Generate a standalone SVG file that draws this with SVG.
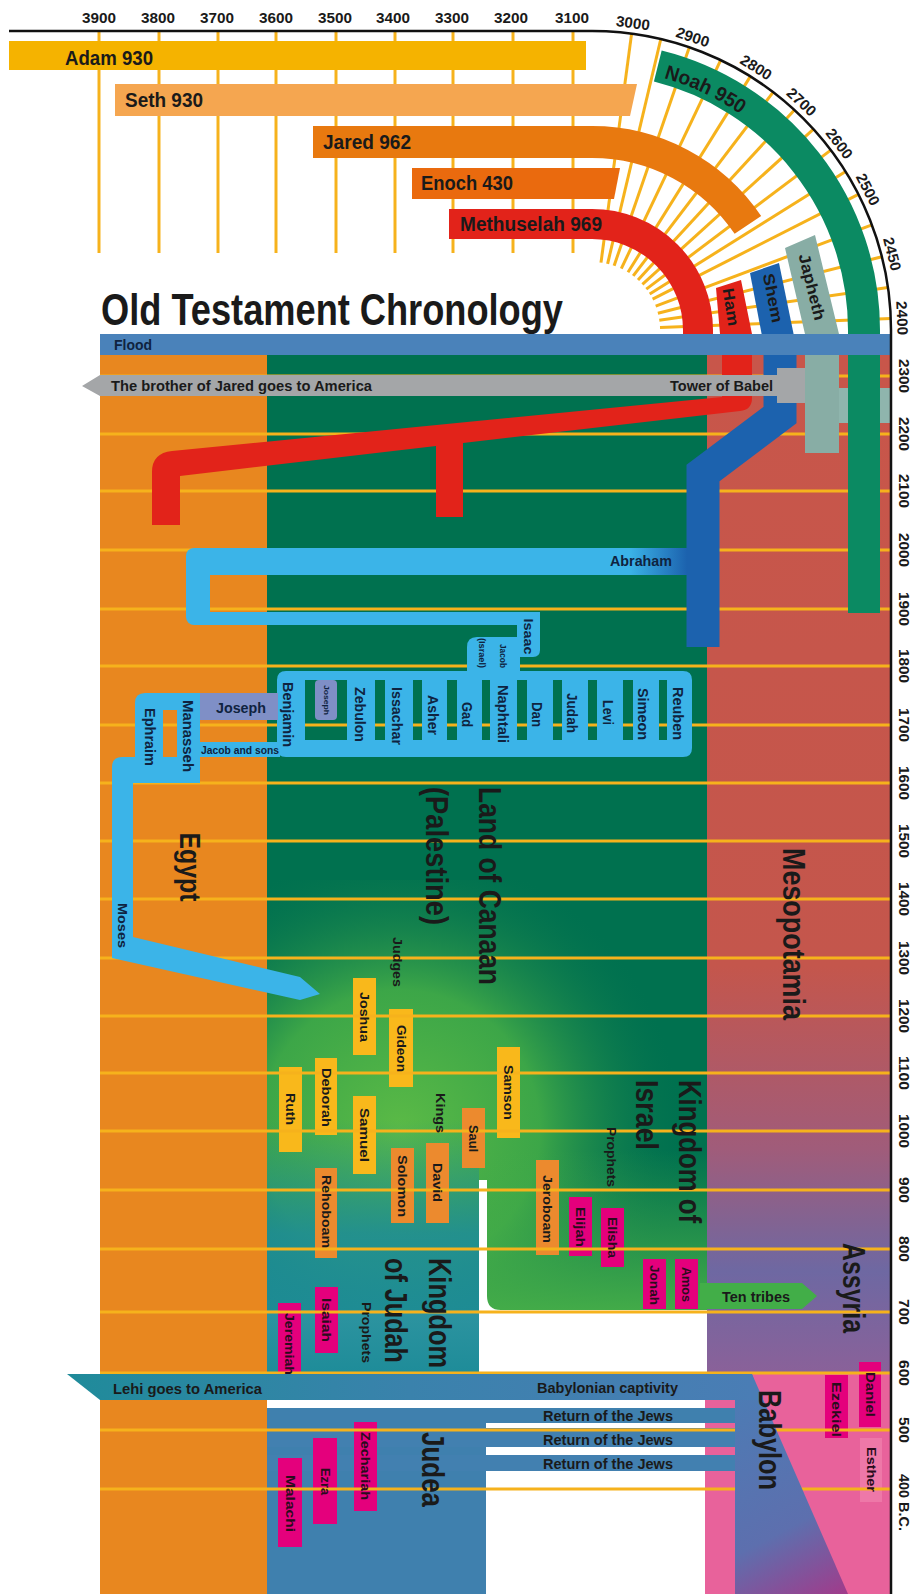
<svg xmlns="http://www.w3.org/2000/svg" width="914" height="1594" viewBox="0 0 914 1594">
<defs>
<style>
.t{font-family:"Liberation Sans Narrow","Liberation Sans",Arial,sans-serif;font-weight:700;fill:#1a1a1a}
.r{dominant-baseline:central;text-anchor:middle}
.yr{font-size:15px}
.bar{font-size:20px}
.band{font-size:15px}
.big{font-size:32px}
.nm{font-size:13.5px}
.nv{fill:#0F2340}
.tm{fill:#2a0c1c}
.grid{stroke:#F6B21C;stroke-width:3}
.by{fill:#F9B81B}
.bo{fill:#EC8A2E}
.bm{fill:#E4007C}
.lb{fill:#3BB4E8}
.pw{fill:#7F8FC6}
</style>
<linearGradient id="meso" gradientUnits="userSpaceOnUse" x1="0" y1="355" x2="0" y2="1373">
<stop offset="0" stop-color="#C8564A"/><stop offset="0.6" stop-color="#C4564C"/><stop offset="0.78" stop-color="#A05C7A"/><stop offset="0.9" stop-color="#6E68A2"/><stop offset="1" stop-color="#8A6199"/>
</linearGradient>
<radialGradient id="grn" gradientUnits="userSpaceOnUse" cx="400" cy="1130" r="280">
<stop offset="0" stop-color="#5BBA46" stop-opacity="1"/><stop offset="0.5" stop-color="#43AC47" stop-opacity="0.9"/><stop offset="1" stop-color="#0A7650" stop-opacity="0"/>
</radialGradient>
<linearGradient id="judah" gradientUnits="userSpaceOnUse" x1="0" y1="1120" x2="0" y2="1373">
<stop offset="0" stop-color="#1E8C99" stop-opacity="0"/><stop offset="0.45" stop-color="#1E8C99" stop-opacity="0.85"/><stop offset="1" stop-color="#1E8C99" stop-opacity="1"/>
</linearGradient>
<linearGradient id="isr" gradientUnits="userSpaceOnUse" x1="0" y1="1150" x2="0" y2="1310">
<stop offset="0" stop-color="#46AE48" stop-opacity="0"/><stop offset="1" stop-color="#46AE48" stop-opacity="0.95"/>
</linearGradient>
<linearGradient id="capt" gradientUnits="userSpaceOnUse" x1="67" y1="0" x2="752" y2="0">
<stop offset="0" stop-color="#1F8B9A"/><stop offset="0.5" stop-color="#3A82AC"/><stop offset="1" stop-color="#4A7DB5"/>
</linearGradient>
<linearGradient id="baby" gradientUnits="userSpaceOnUse" x1="735" y1="1374" x2="850" y2="1594">
<stop offset="0" stop-color="#4A7DB5"/><stop offset="0.65" stop-color="#5D6FAE"/><stop offset="1" stop-color="#A23A8A"/>
</linearGradient>
<linearGradient id="abr" gradientUnits="userSpaceOnUse" x1="205" y1="0" x2="687" y2="0">
<stop offset="0" stop-color="#3BB4E8"/><stop offset="0.88" stop-color="#3BB4E8"/><stop offset="1" stop-color="#1C62AE"/>
</linearGradient>
<path id="noahArc" d="M663.8,78 A262,262 0 0 1 818.9,199"/>
</defs>
<rect width="914" height="1594" fill="#ffffff"/>

<!-- regions -->
<g id="regions">
<rect id="egypt-bg" x="100" y="355" width="167" height="1239" fill="#E8871F"/>
<rect id="canaan-bg" x="267" y="355" width="440" height="955" fill="#00714F"/>
<rect x="267" y="880" width="440" height="430" fill="url(#grn)"/>
<rect x="267" y="1120" width="212" height="253" fill="url(#judah)"/>
<rect x="487" y="1150" width="220" height="160" fill="url(#isr)"/>
<path d="M479,1180 L487,1180 L487,1296 Q487,1310 501,1310 L707,1310 L707,1373 L479,1373 Z" fill="#ffffff"/>
<rect id="meso-bg" x="707" y="355" width="184" height="1018" fill="url(#meso)"/>
<rect id="babylon-bg" x="705" y="1373" width="186" height="221" fill="#E8629B"/>
<rect id="judea-bg" x="267" y="1408" width="219" height="186" fill="#3F80AE"/>
<rect x="267" y="1408" width="473" height="15" fill="#3F80AE"/>
<rect x="267" y="1428" width="473" height="19" fill="#4280B0"/>
<rect x="267" y="1455" width="473" height="16" fill="#4280B0"/>
<path d="M700,1283 L802,1283 L817,1296 L802,1309 L700,1309 Z" fill="#42AE48"/>
</g>

<!-- person boxes -->
<g id="boxes">
<rect x="353" y="978" width="23" height="77" class="by"/>
<rect x="389" y="1009" width="24" height="78" class="by"/>
<rect x="315" y="1058" width="22" height="77" class="by"/>
<rect x="279" y="1067" width="23" height="85" class="by"/>
<rect x="353" y="1096" width="23" height="78" class="by"/>
<rect x="497" y="1047" width="23" height="91" class="by"/>
<rect x="462" y="1108" width="23" height="60" class="bo"/>
<rect x="426" y="1143" width="23" height="80" class="bo"/>
<rect x="391" y="1148" width="23" height="75" class="bo"/>
<rect x="315" y="1168" width="22" height="90" class="bo"/>
<rect x="536" y="1160" width="23" height="95" class="bo"/>
<rect x="569" y="1197" width="23" height="59" class="bm"/>
<rect x="601" y="1208" width="23" height="59" class="bm"/>
<rect x="643" y="1259" width="23" height="50" class="bm"/>
<rect x="675" y="1259" width="23" height="50" class="bm"/>
<rect x="315" y="1287" width="23" height="66" class="bm"/>
<rect x="278" y="1303" width="23" height="82" class="bm"/>
<rect x="354" y="1422" width="23" height="89" class="bm"/>
<rect x="313" y="1438" width="24" height="86" class="bm"/>
<rect x="278" y="1458" width="24" height="89" class="bm"/>
<rect x="859" y="1362" width="22" height="65" class="bm"/>
<rect x="825" y="1375" width="23" height="63" class="bm"/>
<rect x="860" y="1438" width="22" height="64" fill="#EE78A8"/>
</g>

<!-- grid -->
<g id="grid" class="grid">
<line x1="100" y1="376" x2="891" y2="376"/><line x1="100" y1="434" x2="891" y2="434"/>
<line x1="100" y1="491" x2="891" y2="491"/><line x1="100" y1="550" x2="891" y2="550"/>
<line x1="100" y1="609" x2="891" y2="609"/><line x1="100" y1="666" x2="891" y2="666"/>
<line x1="100" y1="725" x2="891" y2="725"/><line x1="100" y1="783" x2="891" y2="783"/>
<line x1="100" y1="841" x2="891" y2="841"/><line x1="100" y1="899" x2="891" y2="899"/>
<line x1="100" y1="958" x2="891" y2="958"/><line x1="100" y1="1016" x2="891" y2="1016"/>
<line x1="100" y1="1073" x2="891" y2="1073"/><line x1="100" y1="1131" x2="891" y2="1131"/>
<line x1="100" y1="1190" x2="891" y2="1190"/><line x1="100" y1="1249" x2="891" y2="1249"/>
<line x1="100" y1="1312" x2="891" y2="1312"/><line x1="100" y1="1373" x2="891" y2="1373"/>
<line x1="100" y1="1430" x2="891" y2="1430"/><line x1="100" y1="1489" x2="891" y2="1489"/>
<line x1="99" y1="31" x2="99" y2="253"/><line x1="159" y1="31" x2="159" y2="253"/>
<line x1="218" y1="31" x2="218" y2="253"/><line x1="276" y1="31" x2="276" y2="253"/>
<line x1="336" y1="31" x2="336" y2="253"/><line x1="395" y1="31" x2="395" y2="253"/>
<line x1="453" y1="31" x2="453" y2="253"/><line x1="513" y1="31" x2="513" y2="253"/>
<line x1="573" y1="31" x2="573" y2="253"/>
<line x1="601" y1="262.6" x2="631.6" y2="33.6"/><line x1="607.6" y1="263.8" x2="660.8" y2="39"/>
<line x1="614.1" y1="265.7" x2="689.3" y2="47.3"/><line x1="621.3" y1="268.6" x2="720.7" y2="60.1"/>
<line x1="628" y1="272.3" x2="750.4" y2="76.4"/><line x1="633.2" y1="275.9" x2="773.2" y2="92.1"/>
<line x1="638" y1="279.9" x2="794.4" y2="109.9"/><line x1="642.4" y1="284.3" x2="813.5" y2="129.2"/>
<line x1="646.3" y1="289.1" x2="830.8" y2="150.1"/><line x1="649.7" y1="294" x2="845.6" y2="171.6"/>
<line x1="652.6" y1="299.1" x2="858.4" y2="194.3"/><line x1="655.7" y1="306.1" x2="871.9" y2="224.8"/>
<line x1="657.9" y1="313.3" x2="881.9" y2="256.7"/><line x1="659.3" y1="320.3" x2="888" y2="287.4"/>
<line x1="660" y1="327.4" x2="890.8" y2="318.5"/>
</g>

<!-- patriarch bars -->
<g id="adam"><rect x="9" y="41" width="577" height="29" fill="#F5B300"/><text class="t bar" x="65" y="65" textLength="88" lengthAdjust="spacingAndGlyphs">Adam 930</text></g>
<g id="seth"><path d="M115,84 L637,84 L630,116 L115,116 Z" fill="#F5A650"/><text class="t bar" x="125" y="107" textLength="78" lengthAdjust="spacingAndGlyphs">Seth 930</text></g>
<g id="jared"><path d="M313,142 L592,142 A188,188 0 0 1 747.9,224.9" fill="none" stroke="#E8790F" stroke-width="32"/><text class="t bar" x="323" y="149" textLength="88" lengthAdjust="spacingAndGlyphs">Jared 962</text></g>
<g id="enoch"><path d="M412,168 L620,168 L614,199 L412,199 Z" fill="#EA6A0E"/><text class="t bar" x="421" y="190" textLength="92" lengthAdjust="spacingAndGlyphs">Enoch 430</text></g>
<g id="methuselah"><path d="M449,224 L592,224 A106,106 0 0 1 698,330 L698,336" fill="none" stroke="#E2231A" stroke-width="30"/><text class="t bar" x="460" y="231" textLength="142" lengthAdjust="spacingAndGlyphs">Methuselah 969</text></g>

<!-- Babylon shape -->
<g id="babylonian-captivity">
<path d="M735,1374 L752,1374 L848,1594 L735,1594 Z" fill="url(#baby)"/>
<path d="M67,1374 L752,1374 L760,1400 L100,1400 Z" fill="url(#capt)"/>
<text class="t band" x="113" y="1394" textLength="149" lengthAdjust="spacingAndGlyphs">Lehi goes to America</text>
<text class="t band" x="537" y="1393" textLength="141" lengthAdjust="spacingAndGlyphs">Babylonian captivity</text>
</g>
<g id="return-jews">
<text class="t band" x="543" y="1421" textLength="130" lengthAdjust="spacingAndGlyphs">Return of the Jews</text>
<text class="t band" x="543" y="1445" textLength="130" lengthAdjust="spacingAndGlyphs">Return of the Jews</text>
<text class="t band" x="543" y="1469" textLength="130" lengthAdjust="spacingAndGlyphs">Return of the Jews</text>
</g>

<!-- connectors: lineages -->
<g id="connectors">
<path id="ham-line" d="M716,288 L741,280 L752,334 L752,398 Q752,410 740,411 L463,443 L463,517 L436,517 L436,446 L180,476 L180,525 L152,525 L152,472 Q152,453 172,451 L722,397 L722,334 L720,334 Z" fill="#E2231A"/>
<path d="M750,273 L779,263 L794,336 L762,336 Z" fill="#1C62AE"/>
<path id="shem-line" d="M780,334 L780,415 L703,473 L703,647" fill="none" stroke="#1C62AE" stroke-width="33"/>
<rect x="825" y="388" width="66" height="35" fill="#8FB5AD"/>
<path d="M785,248 L815,235 L839,334 L839,453 L805,453 L805,334 Z" fill="#88ADA5"/>
<path id="noah-line" d="M657.8,66.1 A272,272 0 0 1 864,330 L864,613" fill="none" stroke="#0B8A62" stroke-width="32"/>
</g>

<g id="flood"><rect x="100" y="334" width="791" height="21" fill="#4A82BA"/><text class="t band nv" x="114" y="350" textLength="38" lengthAdjust="spacingAndGlyphs">Flood</text></g>
<g id="tower-of-babel"><path d="M82,386 L100,375 L777,375 L777,368 L805,368 L805,403 L777,403 L777,396 L100,396 Z" fill="#A4A6A8"/>
<text class="t band" x="111" y="391" textLength="261" lengthAdjust="spacingAndGlyphs">The brother of Jared goes to America</text>
<text class="t band" x="670" y="391" textLength="103" lengthAdjust="spacingAndGlyphs">Tower of Babel</text></g>

<g id="abraham-lineage">
<rect x="205" y="548" width="482" height="27" fill="url(#abr)"/>
<rect x="186" y="548" width="24" height="77" rx="8" class="lb"/>
<rect x="200" y="548" width="10" height="27" class="lb"/>
<rect x="200" y="612" width="340" height="13" class="lb"/>
<path d="M517,612 L530,612 Q540,612 540,622 L540,650 Q540,657 533,657 L517,657 Z" class="lb"/>
<path d="M467,672 L467,647 Q467,637 477,637 L520,637 L520,672 Z" class="lb"/>
<path fill-rule="evenodd" class="lb" d="M286,671 L683,671 Q692,671 692,680 L692,748 Q692,757 683,757 L286,757 Q277,757 277,748 L277,680 Q277,671 286,671 Z M305,680 h42 v60 h-42 Z M375,680 h10 v60 h-10 Z M413,680 h9 v60 h-9 Z M447,680 h10 v60 h-10 Z M482,680 h8 v60 h-8 Z M517,680 h10 v60 h-10 Z M553,680 h9 v60 h-9 Z M588,680 h9 v60 h-9 Z M623,680 h10 v60 h-10 Z M659,680 h8 v60 h-8 Z"/>
<rect x="315" y="680" width="22" height="40" rx="4" class="pw"/>
<rect x="197" y="742" width="83" height="15" class="lb"/>
<rect x="200" y="693" width="78" height="27" class="pw"/>
<path fill-rule="evenodd" class="lb" d="M135,783 L135,703 Q135,693 145,693 L200,693 L200,783 Z M163,710 L177,710 L177,770 L163,770 Z"/>
<path class="lb" d="M112,767 Q112,757 122,757 L200,757 L200,783 L133,783 L133,937 L300,977 L320,994 L300,1000 L112,958 Z"/>
<text class="t band nv" x="610" y="566" textLength="62" lengthAdjust="spacingAndGlyphs">Abraham</text>
</g>

<!-- title -->
<g id="title"><text class="t" x="101" y="325" font-size="44" fill="#111" textLength="462" lengthAdjust="spacingAndGlyphs">Old Testament Chronology</text></g>

<!-- axis -->
<g id="axis">
<path d="M9,31 L592,31 A299,299 0 0 1 891,330 L891,1594" fill="none" stroke="#111" stroke-width="2.5"/>
<g class="t yr">
<text x="99" y="23" text-anchor="middle" textLength="34" lengthAdjust="spacingAndGlyphs">3900</text>
<text x="158" y="23" text-anchor="middle" textLength="34" lengthAdjust="spacingAndGlyphs">3800</text>
<text x="217" y="23" text-anchor="middle" textLength="34" lengthAdjust="spacingAndGlyphs">3700</text>
<text x="276" y="23" text-anchor="middle" textLength="34" lengthAdjust="spacingAndGlyphs">3600</text>
<text x="335" y="23" text-anchor="middle" textLength="34" lengthAdjust="spacingAndGlyphs">3500</text>
<text x="393" y="23" text-anchor="middle" textLength="34" lengthAdjust="spacingAndGlyphs">3400</text>
<text x="452" y="23" text-anchor="middle" textLength="34" lengthAdjust="spacingAndGlyphs">3300</text>
<text x="511" y="23" text-anchor="middle" textLength="34" lengthAdjust="spacingAndGlyphs">3200</text>
<text x="572" y="23" text-anchor="middle" textLength="34" lengthAdjust="spacingAndGlyphs">3100</text>
<text class="r" transform="translate(633,22.7) rotate(7.6)" textLength="34" lengthAdjust="spacingAndGlyphs">3000</text>
<text class="r" transform="translate(692.9,36.9) rotate(19)" textLength="34" lengthAdjust="spacingAndGlyphs">2900</text>
<text class="r" transform="translate(756.3,67.1) rotate(32)" textLength="34" lengthAdjust="spacingAndGlyphs">2800</text>
<text class="r" transform="translate(801.8,101.8) rotate(42.6)" textLength="34" lengthAdjust="spacingAndGlyphs">2700</text>
<text class="r" transform="translate(839.6,143.4) rotate(53)" textLength="34" lengthAdjust="spacingAndGlyphs">2600</text>
<text class="r" transform="translate(868.2,189.3) rotate(63)" textLength="34" lengthAdjust="spacingAndGlyphs">2500</text>
<text class="r" transform="translate(892.5,254) rotate(75.8)" textLength="34" lengthAdjust="spacingAndGlyphs">2450</text>
<text class="r" transform="translate(902.5,318) rotate(87.8)" textLength="34" lengthAdjust="spacingAndGlyphs">2400</text>
<text class="r" transform="translate(904,376) rotate(90)" textLength="34" lengthAdjust="spacingAndGlyphs">2300</text>
<text class="r" transform="translate(904,434) rotate(90)" textLength="34" lengthAdjust="spacingAndGlyphs">2200</text>
<text class="r" transform="translate(904,491) rotate(90)" textLength="34" lengthAdjust="spacingAndGlyphs">2100</text>
<text class="r" transform="translate(904,550) rotate(90)" textLength="34" lengthAdjust="spacingAndGlyphs">2000</text>
<text class="r" transform="translate(904,609) rotate(90)" textLength="34" lengthAdjust="spacingAndGlyphs">1900</text>
<text class="r" transform="translate(904,666) rotate(90)" textLength="34" lengthAdjust="spacingAndGlyphs">1800</text>
<text class="r" transform="translate(904,725) rotate(90)" textLength="34" lengthAdjust="spacingAndGlyphs">1700</text>
<text class="r" transform="translate(904,783) rotate(90)" textLength="34" lengthAdjust="spacingAndGlyphs">1600</text>
<text class="r" transform="translate(904,841) rotate(90)" textLength="34" lengthAdjust="spacingAndGlyphs">1500</text>
<text class="r" transform="translate(904,899) rotate(90)" textLength="34" lengthAdjust="spacingAndGlyphs">1400</text>
<text class="r" transform="translate(904,958) rotate(90)" textLength="34" lengthAdjust="spacingAndGlyphs">1300</text>
<text class="r" transform="translate(904,1016) rotate(90)" textLength="34" lengthAdjust="spacingAndGlyphs">1200</text>
<text class="r" transform="translate(904,1073) rotate(90)" textLength="34" lengthAdjust="spacingAndGlyphs">1100</text>
<text class="r" transform="translate(904,1131) rotate(90)" textLength="34" lengthAdjust="spacingAndGlyphs">1000</text>
<text class="r" transform="translate(904,1190) rotate(90)" textLength="26" lengthAdjust="spacingAndGlyphs">900</text>
<text class="r" transform="translate(904,1249) rotate(90)" textLength="26" lengthAdjust="spacingAndGlyphs">800</text>
<text class="r" transform="translate(904,1312) rotate(90)" textLength="26" lengthAdjust="spacingAndGlyphs">700</text>
<text class="r" transform="translate(904,1373) rotate(90)" textLength="26" lengthAdjust="spacingAndGlyphs">600</text>
<text class="r" transform="translate(904,1430) rotate(90)" textLength="26" lengthAdjust="spacingAndGlyphs">500</text>
<text transform="translate(904,1474) rotate(90)" dominant-baseline="central" textLength="57" lengthAdjust="spacingAndGlyphs">400 B.C.</text>
</g>
</g>

<!-- sons of Noah and Noah label -->
<g id="noah"><text class="t bar"><textPath href="#noahArc" textLength="85" lengthAdjust="spacingAndGlyphs">Noah 950</textPath></text></g>
<g id="ham"><text class="t r" font-size="16" transform="translate(731,307) rotate(81)" textLength="38" lengthAdjust="spacingAndGlyphs">Ham</text></g>
<g id="shem"><text class="t r" font-size="16" transform="translate(773,298) rotate(79)" textLength="50" lengthAdjust="spacingAndGlyphs">Shem</text></g>
<g id="japheth"><text class="t r" font-size="16" transform="translate(812,287) rotate(76)" textLength="68" lengthAdjust="spacingAndGlyphs">Japheth</text></g>

<!-- lineage labels -->
<g class="t nv">
<g id="isaac"><text class="r" font-size="13" transform="translate(528.5,636.5) rotate(90)" textLength="36" lengthAdjust="spacingAndGlyphs">Isaac</text></g>
<g id="jacob"><text class="r" font-size="9" transform="translate(503,656) rotate(90)" textLength="24" lengthAdjust="spacingAndGlyphs">Jacob</text>
<text class="r" font-size="8.5" transform="translate(482,653) rotate(90)" textLength="30" lengthAdjust="spacingAndGlyphs">(Israel)</text></g>
<g id="tribes" font-size="14">
<text class="r" transform="translate(288,714.5) rotate(90)" textLength="65" lengthAdjust="spacingAndGlyphs">Benjamin</text>
<text class="r" font-size="8" transform="translate(326,700) rotate(90)" textLength="30" lengthAdjust="spacingAndGlyphs">Joseph</text>
<text class="r" transform="translate(360,714.5) rotate(90)" textLength="55" lengthAdjust="spacingAndGlyphs">Zebulon</text>
<text class="r" transform="translate(397,716) rotate(90)" textLength="58" lengthAdjust="spacingAndGlyphs">Issachar</text>
<text class="r" transform="translate(433,715) rotate(90)" textLength="40" lengthAdjust="spacingAndGlyphs">Asher</text>
<text class="r" transform="translate(467,714.5) rotate(90)" textLength="25" lengthAdjust="spacingAndGlyphs">Gad</text>
<text class="r" transform="translate(503,714) rotate(90)" textLength="58" lengthAdjust="spacingAndGlyphs">Naphtali</text>
<text class="r" transform="translate(537,714.5) rotate(90)" textLength="25" lengthAdjust="spacingAndGlyphs">Dan</text>
<text class="r" transform="translate(572,713) rotate(90)" textLength="40" lengthAdjust="spacingAndGlyphs">Judah</text>
<text class="r" transform="translate(608,712.5) rotate(90)" textLength="25" lengthAdjust="spacingAndGlyphs">Levi</text>
<text class="r" transform="translate(643,714) rotate(90)" textLength="52" lengthAdjust="spacingAndGlyphs">Simeon</text>
<text class="r" transform="translate(678,713.5) rotate(90)" textLength="53" lengthAdjust="spacingAndGlyphs">Reuben</text>
</g>
<g id="joseph"><text font-size="15" x="216" y="713" textLength="50" lengthAdjust="spacingAndGlyphs">Joseph</text></g>
<g id="jacob-and-sons"><text font-size="10.5" x="201" y="754" textLength="78" lengthAdjust="spacingAndGlyphs">Jacob and sons</text></g>
<g id="manasseh"><text class="r" font-size="14" transform="translate(188,736) rotate(90)" textLength="72" lengthAdjust="spacingAndGlyphs">Manasseh</text></g>
<g id="ephraim"><text class="r" font-size="14" transform="translate(150,737) rotate(90)" textLength="58" lengthAdjust="spacingAndGlyphs">Ephraim</text></g>
<g id="moses"><text class="r" font-size="13" transform="translate(122,925.5) rotate(90)" textLength="45" lengthAdjust="spacingAndGlyphs">Moses</text></g>
</g>

<!-- region labels -->
<g class="t big">
<g id="lbl-egypt"><text class="r" font-size="30" transform="translate(190,867) rotate(90)" textLength="69" lengthAdjust="spacingAndGlyphs">Egypt</text></g>
<g id="lbl-canaan"><text class="r" transform="translate(490,886) rotate(90)" textLength="198" lengthAdjust="spacingAndGlyphs">Land of Canaan</text>
<text class="r" transform="translate(437,856) rotate(90)" textLength="138" lengthAdjust="spacingAndGlyphs">(Palestine)</text></g>
<g id="lbl-meso"><text class="r" transform="translate(794,934) rotate(90)" textLength="172" lengthAdjust="spacingAndGlyphs">Mesopotamia</text></g>
<g id="lbl-israel"><text class="r" transform="translate(690,1151.5) rotate(90)" textLength="143" lengthAdjust="spacingAndGlyphs">Kingdom of</text>
<text class="r" transform="translate(647,1115) rotate(90)" textLength="70" lengthAdjust="spacingAndGlyphs">Israel</text></g>
<g id="lbl-judah"><text class="r" transform="translate(440,1313) rotate(90)" textLength="110" lengthAdjust="spacingAndGlyphs">Kingdom</text>
<text class="r" transform="translate(396,1310.5) rotate(90)" textLength="105" lengthAdjust="spacingAndGlyphs">of Judah</text></g>
<g id="lbl-judea"><text class="r" transform="translate(433,1469.5) rotate(90)" textLength="75" lengthAdjust="spacingAndGlyphs">Judea</text></g>
<g id="lbl-assyria"><text class="r" transform="translate(854,1288) rotate(90)" textLength="90" lengthAdjust="spacingAndGlyphs">Assyria</text></g>
<g id="lbl-babylon"><text class="r" transform="translate(770,1440) rotate(90)" textLength="100" lengthAdjust="spacingAndGlyphs">Babylon</text></g>
</g>

<g class="t" font-size="13">
<g id="lbl-judges"><text class="r" transform="translate(397,962) rotate(90)" textLength="50" lengthAdjust="spacingAndGlyphs">Judges</text></g>
<g id="lbl-kings"><text class="r" transform="translate(440,1113) rotate(90)" textLength="40" lengthAdjust="spacingAndGlyphs">Kings</text></g>
<g id="lbl-prophets-israel"><text class="r" transform="translate(611,1157) rotate(90)" textLength="60" lengthAdjust="spacingAndGlyphs">Prophets</text></g>
<g id="lbl-prophets-judah"><text class="r" transform="translate(366,1332.5) rotate(90)" textLength="61" lengthAdjust="spacingAndGlyphs">Prophets</text></g>
<g id="ten-tribes"><text font-size="14" x="722" y="1302" textLength="68" lengthAdjust="spacingAndGlyphs">Ten tribes</text></g>
</g>

<!-- person labels -->
<g class="t nm">
<g id="joshua"><text class="r" transform="translate(364.5,1017) rotate(90)" textLength="50" lengthAdjust="spacingAndGlyphs">Joshua</text></g>
<g id="gideon"><text class="r" transform="translate(401,1048.5) rotate(90)" textLength="47" lengthAdjust="spacingAndGlyphs">Gideon</text></g>
<g id="deborah"><text class="r" transform="translate(326,1097.5) rotate(90)" textLength="59" lengthAdjust="spacingAndGlyphs">Deborah</text></g>
<g id="ruth"><text class="r" transform="translate(290.5,1109) rotate(90)" textLength="32" lengthAdjust="spacingAndGlyphs">Ruth</text></g>
<g id="samuel"><text class="r" transform="translate(364.5,1135) rotate(90)" textLength="54" lengthAdjust="spacingAndGlyphs">Samuel</text></g>
<g id="samson"><text class="r" transform="translate(508.5,1092.5) rotate(90)" textLength="55" lengthAdjust="spacingAndGlyphs">Samson</text></g>
<g id="saul"><text class="r" transform="translate(473.5,1138.5) rotate(90)" textLength="27" lengthAdjust="spacingAndGlyphs">Saul</text></g>
<g id="david"><text class="r" transform="translate(437.5,1182.5) rotate(90)" textLength="39" lengthAdjust="spacingAndGlyphs">David</text></g>
<g id="solomon"><text class="r" transform="translate(402.5,1186) rotate(90)" textLength="62" lengthAdjust="spacingAndGlyphs">Solomon</text></g>
<g id="rehoboam"><text class="r" transform="translate(326,1211.5) rotate(90)" textLength="73" lengthAdjust="spacingAndGlyphs">Rehoboam</text></g>
<g id="jeroboam"><text class="r" transform="translate(547.5,1209) rotate(90)" textLength="68" lengthAdjust="spacingAndGlyphs">Jeroboam</text></g>
<g class="tm">
<g id="elijah"><text class="r" transform="translate(580.5,1227) rotate(90)" textLength="40" lengthAdjust="spacingAndGlyphs">Elijah</text></g>
<g id="elisha"><text class="r" transform="translate(612.5,1237.5) rotate(90)" textLength="41" lengthAdjust="spacingAndGlyphs">Elisha</text></g>
<g id="jonah"><text class="r" transform="translate(654.5,1285) rotate(90)" textLength="40" lengthAdjust="spacingAndGlyphs">Jonah</text></g>
<g id="amos"><text class="r" transform="translate(686.5,1284.5) rotate(90)" textLength="35" lengthAdjust="spacingAndGlyphs">Amos</text></g>
<g id="isaiah"><text class="r" transform="translate(326.5,1320) rotate(90)" textLength="44" lengthAdjust="spacingAndGlyphs">Isaiah</text></g>
<g id="jeremiah"><text class="r" transform="translate(289.5,1344) rotate(90)" textLength="62" lengthAdjust="spacingAndGlyphs">Jeremiah</text></g>
<g id="zechariah"><text class="r" transform="translate(365.5,1466) rotate(90)" textLength="68" lengthAdjust="spacingAndGlyphs">Zechariah</text></g>
<g id="ezra"><text class="r" transform="translate(325,1481.5) rotate(90)" textLength="27" lengthAdjust="spacingAndGlyphs">Ezra</text></g>
<g id="malachi"><text class="r" transform="translate(290,1503.5) rotate(90)" textLength="57" lengthAdjust="spacingAndGlyphs">Malachi</text></g>
<g id="daniel"><text class="r" transform="translate(870,1394.5) rotate(90)" textLength="45" lengthAdjust="spacingAndGlyphs">Daniel</text></g>
<g id="ezekiel"><text class="r" transform="translate(836.5,1409.5) rotate(90)" textLength="55" lengthAdjust="spacingAndGlyphs">Ezekiel</text></g>
<g id="esther"><text class="r" transform="translate(871,1469.5) rotate(90)" textLength="45" lengthAdjust="spacingAndGlyphs">Esther</text></g>
</g>
</g>
</svg>
